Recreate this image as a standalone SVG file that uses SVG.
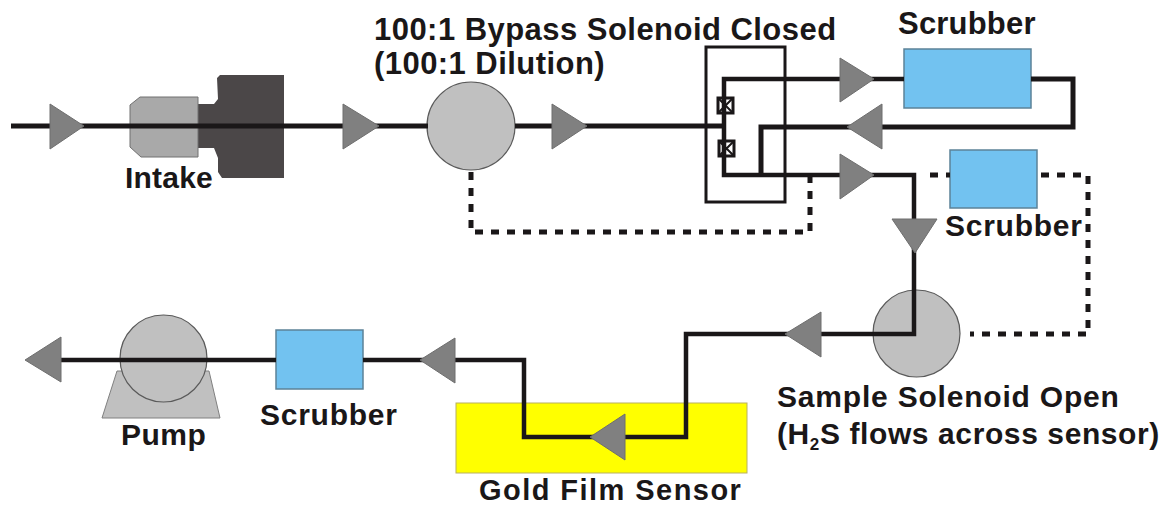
<svg xmlns="http://www.w3.org/2000/svg" width="1170" height="507" viewBox="0 0 1170 507">
<style>
.t{font-family:"Liberation Sans",Arial,sans-serif;font-weight:700;font-size:30px;fill:#1a1718}
.l{fill:none;stroke:#1a1718;stroke-width:5;stroke-linejoin:miter}
.d{fill:none;stroke:#1a1718;stroke-width:5;stroke-dasharray:8 8}
.a{fill:#808080;stroke:#6e6e6e;stroke-width:1}
.s{fill:#72c2f0;stroke:#5c8298;stroke-width:1.5}
.c{fill:#c0c0c0;stroke:#5a5a5a;stroke-width:1.2}
.v{fill:#fff;stroke:#1a1718;stroke-width:3}
.x{fill:none;stroke:#1a1718;stroke-width:2}
</style>
<rect width="1170" height="507" fill="#fff"/>
<g id="gold-film-sensor"><rect x="456" y="403" width="291" height="70" fill="#ffff00" stroke="#b8b060" stroke-width="1"/><text class="t" x="479" y="500" style="font-size:29px" letter-spacing="1.45">Gold Film Sensor</text></g>
<g id="intake">
<polygon points="198,104 214,104 218,99 217,78 220,75 284,75 284,178 222,178 218,172 218,158 214,148 198,148" fill="#4b4748"/>
<polygon points="140,97 198,97 198,157 141,157 130,147 130,105" fill="#a9a9a9" stroke="#707070" stroke-width="1"/>
<text class="t" x="125" y="188" letter-spacing="0.2">Intake</text></g>
<g id="bypass-solenoid"><circle class="c" cx="471" cy="126" r="44"/>
<text class="t" x="374" y="40" style="font-size:31px" letter-spacing="0.46">100:1 Bypass Solenoid Closed</text><text class="t" x="374" y="74" style="font-size:31px" letter-spacing="0.45">(100:1 Dilution)</text></g>
<g id="sample-solenoid"><circle class="c" cx="916.5" cy="333.5" r="43.5"/>
<text class="t" x="777" y="407" letter-spacing="0.8">Sample Solenoid Open</text><text class="t" x="777" y="444" letter-spacing="0.6">(H<tspan style="font-size:17px" dy="6">2</tspan><tspan dy="-6">S flows across sensor)</tspan></text></g>
<g id="scrubber-1"><rect class="s" x="904" y="49" width="127" height="59"/><text class="t" x="898" y="34" style="font-size:31px" letter-spacing="0.2">Scrubber</text></g>
<g id="scrubber-2"><rect class="s" x="950" y="150" width="87" height="58"/><text class="t" x="945" y="236" letter-spacing="0.75">Scrubber</text></g>
<g id="scrubber-3"><rect class="s" x="276" y="330" width="87" height="59"/><text class="t" x="260" y="425" letter-spacing="0.75">Scrubber</text></g>
<g id="pump"><polygon points="117,371 209,371 220,418 102,418" fill="#c0c0c0" stroke="#808080" stroke-width="1"/><circle class="c" cx="163.5" cy="358.5" r="43.5"/><text class="t" x="121" y="445" letter-spacing="0.5">Pump</text></g>
<g id="valve-1"><rect class="v" x="718" y="98" width="15" height="15"/><path class="x" d="M718 98L733 113M733 98L718 113"/></g>
<g id="valve-2"><rect class="v" x="719" y="141" width="15" height="15"/><path class="x" d="M719 141L734 156M734 141L719 156"/></g>
<g id="connectors">
<path class="l" d="M11 126H428M515 126H724"/>
<path class="l" d="M904 79H724V175H914V334H686V437H524V360H363M276 360H60" style="stroke-width:4.5"/>
<path class="l" d="M1031 79H1073V127H761V175"/>
<path class="d" d="M471 172V232H810V175"/>
<path class="d" d="M930 175H950M1041 175H1088V334H970"/>
</g>
<g id="bypass-solenoid-box"><rect x="706" y="47" width="79" height="155" fill="none" stroke="#1a1718" stroke-width="3"/></g>
<g id="arrows">
<polygon class="a" points="50,104 50,149 84,126"/>
<polygon class="a" points="343,104 343,149 379,126"/>
<polygon class="a" points="552,104 552,149 587,126"/>
<polygon class="a" points="840,58 840,102 874,79"/>
<polygon class="a" points="882,104 882,149 847,127"/>
<polygon class="a" points="840,154 840,199 874,175"/>
<polygon class="a" points="892,219 937,219 915,253"/>
<polygon class="a" points="821,312 821,357 785,334"/>
<polygon class="a" points="625,414 625,460 590,437"/>
<polygon class="a" points="455,338 455,383 420,360"/>
<polygon class="a" points="61,337 61,382 25,360"/>
</g>
</svg>
